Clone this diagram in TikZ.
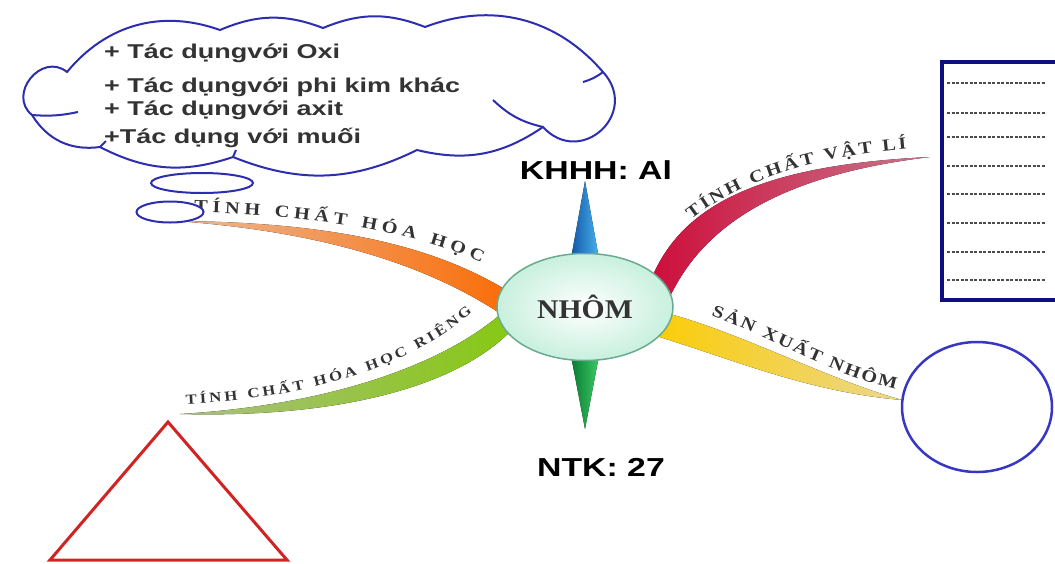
\documentclass[tikz,border=0pt]{standalone}
\usepackage{fontspec}
\setmainfont{Liberation Serif}
\newfontfamily\chuDam[FakeStretch=1.3]{Liberation Sans}
\newfontfamily\chuMay[FakeStretch=1.35]{Liberation Sans}
\newfontfamily\chuGiua[FakeStretch=1.1]{Liberation Serif}
\newfontfamily\chuNhanh[FakeStretch=1.2]{Liberation Serif}
\newcommand\nhanchu{\chuNhanh\bfseries\fontsize{17}{19}\selectfont}
\newcommand\nhanchunho{\chuNhanh\bfseries\fontsize{14}{16}\selectfont}
\usetikzlibrary{shapes.geometric,decorations.text}

\definecolor{xanhmay}{RGB}{45,45,175}
\definecolor{xanhtron}{RGB}{55,55,195}
\definecolor{xanhhop}{RGB}{15,15,130}
\definecolor{dotamgiac}{RGB}{210,35,35}
\definecolor{cam}{RGB}{250,110,10}
\definecolor{camnhat}{RGB}{235,185,150}
\definecolor{luc}{RGB}{135,200,20}
\definecolor{lucnhat}{RGB}{170,190,130}
\definecolor{dotham}{RGB}{205,15,60}
\definecolor{donhat}{RGB}{200,120,140}
\definecolor{vang}{RGB}{250,205,10}
\definecolor{vangnhat}{RGB}{235,215,140}
\definecolor{bacha}{RGB}{200,240,222}
\definecolor{vienla}{RGB}{105,170,145}

\pgfdeclarelayer{nen}
\pgfsetlayers{nen,main}

\begin{document}
\begin{tikzpicture}[x=1pt, y=-1pt,
  vienmay/.style={draw=xanhmay, line width=2},
  bong/.style={ellipse, draw=xanhmay, line width=2, fill=white, inner sep=0},
  dongmay/.style={anchor=west, inner sep=0, text=black!80,
    font=\chuMay\bfseries\fontsize{20}{22}\selectfont},
  chunhanh/.style={decorate, decoration={text along path, text align={fit to path},
    raise=3pt, text color=black!80}},
  gach/.style={line width=1.5, gray!60!black, dash pattern=on 3pt off 1.5pt}]
  \useasboundingbox (0,0) rectangle (1055,563);
  \clip (0,0) rectangle (1055,563);

  % trung tam
  \node[ellipse, minimum width=176, minimum height=107, inner sep=0, outer sep=0,
    draw=vienla, line width=1.5, inner color=white, outer color=bacha,
    font=\chuGiua\bfseries\fontsize{27}{27}\selectfont, text=black!80] (nhom) at (585,307) {NHÔM};

  \coordinate (dauCam) at (176,221);
  \coordinate (dauLuc) at (180,414);
  \coordinate (dauDo) at (930,157);
  \coordinate (dauVang) at (902,400);
  \coordinate (dinhTren) at (585,181);
  \coordinate (dinhDuoi) at (585,429);

  \begin{pgfonlayer}{nen}
    \fill[left color=camnhat, right color=cam] (dauCam) .. controls (330,222) and (430,245) .. (nhom.167)
      -- (nhom.183) .. controls (430,268) and (330,232) .. (dauCam) -- cycle;
    \fill[left color=lucnhat, right color=luc] (dauLuc) .. controls (330,405) and (440,365) .. (nhom.186)
      -- (nhom.199) .. controls (450,390) and (330,418) .. (dauLuc) -- cycle;
    \fill[left color=dotham, right color=donhat] (nhom.26) .. controls (685,205) and (760,165) .. (dauDo)
      .. controls (780,175) and (705,225) .. (nhom.8) -- cycle;
    \fill[left color=vang, right color=vangnhat] (nhom.-5) .. controls (745,335) and (830,380) .. (dauVang)
      .. controls (810,392) and (740,362) .. (nhom.-22) -- cycle;
    \fill[left color={rgb,255:red,20;green,90;blue,170}, right color={rgb,255:red,70;green,175;blue,235}]
      (nhom.104) -- (dinhTren) -- (nhom.76) -- cycle;
    \fill[left color={rgb,255:red,10;green,125;blue,50}, right color={rgb,255:red,60;green,200;blue,100}]
      (nhom.256) -- (dinhDuoi) -- (nhom.284) -- cycle;
  \end{pgfonlayer}

  % nhan tren nhanh
  \path[chunhanh, decoration={text={|\nhanchu|TÍNH CHẤT HÓA HỌC}}]
    (194,215) .. controls (310,218) and (420,235) .. (480,266);
  \path[chunhanh, decoration={text={|\nhanchunho|TÍNH CHẤT HÓA HỌC RIÊNG}}]
    (186,407) .. controls (300,402) and (410,372) .. (474,314);
  \path[chunhanh, decoration={text={|\nhanchu|TÍNH CHẤT VẬT LÍ}}]
    (693,222) .. controls (740,185) and (810,160) .. (907,152);
  \path[chunhanh, decoration={text={|\nhanchu|SẢN XUẤT NHÔM}}]
    (710,318) .. controls (770,340) and (830,378) .. (895,392);

  \node[font=\chuDam\bfseries\fontsize{26}{26}\selectfont] (khhh) at (596,170) {KHHH: Al};
  \node[font=\chuDam\bfseries\fontsize{26}{26}\selectfont] (ntk) at (601,467) {NTK: 27};

  % dam may
  \draw[vienmay, fill=white] (67,72) to[bend left=35] (220,30) to[bend left=22] (323,28)
    to[bend left=22] (425,27) to[bend left=35] (603,72) to[bend left=90, looseness=1.75] (543,127)
    to[bend left=24] (417,150) to[bend left=24] (233,157) to[bend left=23] (100,147)
    to[bend left=33] (32,115) to[bend left=90, looseness=1.5] cycle;
  \draw[vienmay] (32,115) to[bend right=8] (78,112);
  \draw[vienmay] (603,72) to[bend left=10] (583,82);
  \draw[vienmay] (543,127) to[bend left=15] (493,100);
  \draw[vienmay] (233,157) -- (236,150);
  \draw[vienmay] (100,147) -- (106,141);
  \node[bong, minimum width=102, minimum height=20] (bong1) at (202,183) {};
  \node[bong, minimum width=67, minimum height=21] (bong2) at (170,212) {};
  \node[dongmay] (tc1) at (104,53) {+ Tác dụngvới Oxi};
  \node[dongmay] (tc2) at (104,87) {+ Tác dụngvới phi kim khác};
  \node[dongmay] (tc3) at (104,110) {+ Tác dụngvới axit};
  \node[dongmay] (tc4) at (104,138) {+Tác dụng với muối};

  % tam giac, hop, vong tron
  \draw[dotamgiac, line width=3, line join=miter] (dauLuc) ++(-12,8) coordinate (dinh)
    -- (50,560) -- (287,560) -- cycle;
  \node[draw=xanhhop, line width=4, minimum width=130, minimum height=238, inner sep=0,
    anchor=north west] (hop) at (940,60) {};
  \foreach \y in {83,113,137,166,194,223,252,280}
    \draw[gach] (947,\y) -- (1046,\y);
  \node[ellipse, draw=xanhtron, line width=2.5, minimum width=150, minimum height=130,
    inner sep=0] (tron) at (977,407) {};
\end{tikzpicture}
\end{document}
